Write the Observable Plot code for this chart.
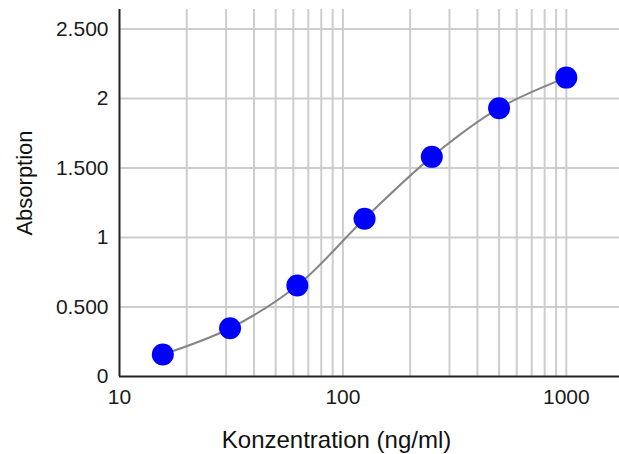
<!DOCTYPE html>
<html>
<head>
<meta charset="utf-8">
<script src="https://cdn.jsdelivr.net/npm/d3@7"></script>
<script src="https://cdn.jsdelivr.net/npm/@observablehq/plot@0.6"></script>
<style>
  html, body { margin: 0; padding: 0; background: #ffffff; }
  svg { display: block; }
</style>
</head>
<body>
<div id="chart"></div>
<script>
// Data
const concentration = [15.625, 31.25, 62.5, 125, 250, 500, 1000];
const absorption   = [0.158, 0.347, 0.654, 1.135, 1.58, 1.93, 2.15];

const xTickValues = [10, 100, 1000];
const xGridValues = [20, 30, 40, 50, 60, 70, 80, 90, 100, 200, 300, 400, 500, 600, 700, 800, 900, 1000];
const yTickValues = [0, 0.5, 1, 1.5, 2, 2.5];
const yGridValues = [0.5, 1, 1.5, 2, 2.5];
const yTickLabels = ["0", "0.500", "1", "1.500", "2", "2.500"];
const xTitle = ["Konzentration (ng/ml)"];
const yTitle = ["Absorption"];

const data = concentration.map((c, i) => ({c, a: absorption[i]}));

const chart = Plot.plot({
  width: 619,
  height: 454,
  marginLeft: 119,
  marginRight: 0,
  marginTop: 9,
  marginBottom: 78,
  style: {fontFamily: "'Liberation Sans', Arial, sans-serif", background: "#ffffff", color: "#1a1a1a"},
  x: {type: "log", domain: [10, 1730]},
  y: {domain: [0, 2.64]},
  marks: [
    Plot.ruleX(xGridValues, {stroke: "#cdcdcd", strokeWidth: 2}),
    Plot.ruleY(yGridValues, {stroke: "#cdcdcd", strokeWidth: 2}),
    Plot.line(data, {x: "c", y: "a", curve: "catmull-rom", stroke: "#858585", strokeWidth: 2}),
    Plot.dot(data, {x: "c", y: "a", r: 11, fill: "#0000ff", stroke: "none"}),
    Plot.ruleX([10], {stroke: "#222", strokeWidth: 2}),
    Plot.ruleY([0], {stroke: "#222", strokeWidth: 2}),
    Plot.axisX({ticks: xTickValues, tickSize: 0, tickPadding: 13, tickFormat: d => String(d), fontSize: 21, label: null}),
    Plot.axisY({ticks: yTickValues, tickSize: 0, tickPadding: 11, tickFormat: (d, i) => yTickLabels[yTickValues.indexOf(d)], fontSize: 21, label: null}),
    Plot.text(xTitle, {frameAnchor: "bottom", textAnchor: "middle", dx: -33, dy: 64, lineAnchor: "middle", fontSize: 24, fill: "#111"}),
    Plot.text(yTitle, {frameAnchor: "left", textAnchor: "middle", rotate: -90, dx: -95, dy: -10, lineAnchor: "middle", fontSize: 22, fill: "#111"})
  ]
});
document.getElementById("chart").appendChild(chart);
</script>
</body>
</html>
